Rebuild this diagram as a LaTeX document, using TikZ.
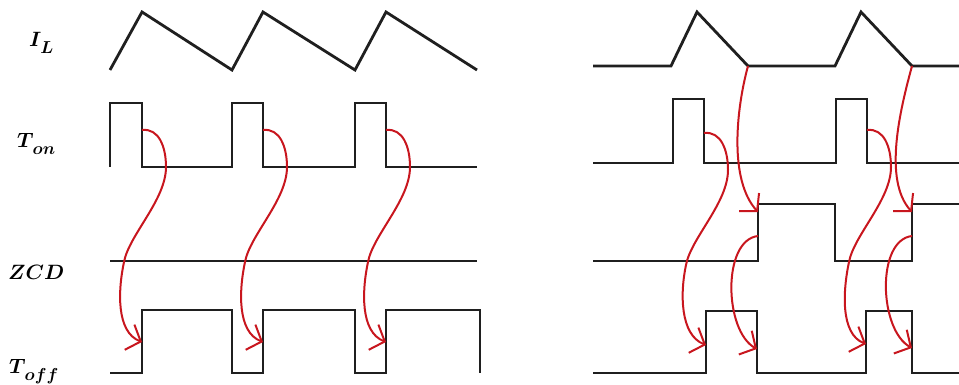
\documentclass[tikz,border=0pt]{standalone}
\usepackage{amsmath}
\usetikzlibrary{arrows.meta}
\definecolor{arrred}{RGB}{200,22,30}
\newcommand\lsub[1]{\kern-1pt\raisebox{-7pt}{\fontsize{17}{20}\selectfont$#1$}}
\tikzset{
  wave/.style={line width=2.8pt, black!88, line join=miter},
  redarr/.style={line width=2pt, arrred, -{Straight Barb[length=12pt,width=27pt]}},
  lab/.style={font=\fontsize{22}{26}\selectfont\boldmath, inner sep=0pt, anchor=base west}
}
\newcommand\arrB[2]{\draw[redarr] (#1) .. controls +(17,-2) and +(0,-20) .. ++(24,37) .. controls +(0,33) and +(5,-27) .. ++(-42,95) .. controls +(-6,28) and +(-26,-10) .. (#2);}
\newcommand\arrA[2]{\draw[redarr] (#1) .. controls +(-12,44) and +(-29,-32) .. (#2);}
\newcommand\arrC[2]{\draw[redarr] (#1) .. controls +(-36,4) and +(-33,-18) .. (#2);}
\begin{document}
\begin{tikzpicture}[x=1pt,y=-1pt]
\useasboundingbox (0,0) rectangle (959,385);
% labels
\node[lab] (lil) at (29,47) {$I$\lsub{L}};
\node[lab] (lton) at (17,148) {$T$\lsub{on}};
\node[lab] (lzcd) at (8,279) {$ZCD$};
\node[lab] (ltoff) at (9,373) {$T$\lsub{off}};
% left panel
\draw[wave] (110,70) -- (142,12) -- (232,70) -- (263,12) -- (355,70) -- (386,12) -- (477,70);
\draw[wave] (110,167) -- (110,103) -- (142,103) -- (142,167) -- (232,167) -- (232,103) -- (263,103) -- (263,167) -- (355,167) -- (355,103) -- (386,103) -- (386,167) -- (477,167);
\draw[wave] (110,261) -- (477,261);
\draw[wave] (110,373) -- (142,373) -- (142,310) -- (232,310) -- (232,373) -- (263,373) -- (263,310) -- (355,310) -- (355,373) -- (386,373) -- (386,310) -- (480,310) -- (480,373);
% right panel
\draw[wave] (593,66) -- (671,66) -- (697,12) -- (748,66) -- (835,66) -- (861,12) -- (912,66) -- (960,66);
\draw[wave] (593,163) -- (673,163) -- (673,99) -- (704,99) -- (704,163) -- (836,163) -- (836,99) -- (867,99) -- (867,163) -- (960,163);
\draw[wave] (593,261) -- (758,261) -- (758,204) -- (835,204) -- (835,261) -- (912,261) -- (912,204) -- (960,204);
\draw[wave] (593,373) -- (706,373) -- (706,311) -- (757,311) -- (757,373) -- (866,373) -- (866,311) -- (912,311) -- (912,373) -- (960,373);
% arrow end points
\coordinate (l1s) at (142,130); \coordinate (l1e) at (142,342);
\coordinate (l2s) at (263,130); \coordinate (l2e) at (263,342);
\coordinate (l3s) at (386,130); \coordinate (l3e) at (386,342);
\coordinate (ra1s) at (748,66);  \coordinate (ra1e) at (758,212);
\coordinate (rb1s) at (704,133); \coordinate (rb1e) at (706,345);
\coordinate (rc1s) at (758,236); \coordinate (rc1e) at (757,349);
\coordinate (ra2s) at (912,66);  \coordinate (ra2e) at (912,212);
\coordinate (rb2s) at (867,130); \coordinate (rb2e) at (866,344);
\coordinate (rc2s) at (912,236); \coordinate (rc2e) at (912,348);
% arrows
\arrB{l1s}{l1e}
\arrB{l2s}{l2e}
\arrB{l3s}{l3e}
\arrA{ra1s}{ra1e}
\arrB{rb1s}{rb1e}
\arrC{rc1s}{rc1e}
\arrA{ra2s}{ra2e}
\arrB{rb2s}{rb2e}
\arrC{rc2s}{rc2e}
\end{tikzpicture}
\end{document}
